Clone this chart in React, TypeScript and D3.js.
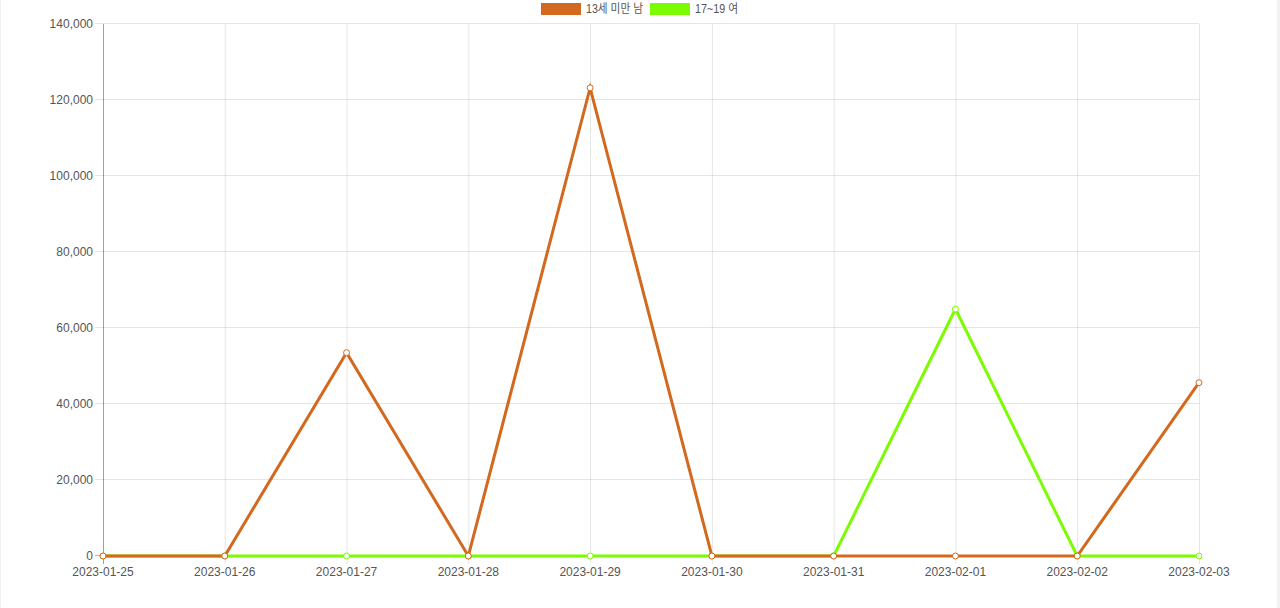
import React from "react";
import * as d3 from "d3";

const dates = ["2023-01-25","2023-01-26","2023-01-27","2023-01-28","2023-01-29","2023-01-30","2023-01-31","2023-02-01","2023-02-02","2023-02-03"];
const boyUnder13 = [0, 0, 53500, 0, 123200, 0, 0, 0, 0, 45600];
const girl17to19 = [0, 0, 0, 0, 0, 0, 0, 65000, 0, 0];
const yTicks = [0, 20000, 40000, 60000, 80000, 100000, 120000, 140000];
const seriesNames = ["13세 미만 남", "17~19 여"];
const seriesColors = ["#d2691e", "#7cfc00"];

const W = 1280, H = 608;
const left = 103, right = 1199, top = 24, bottom = 556;

export default function App() {
  const x = d3.scalePoint<string>().domain(dates).range([left, right]);
  const y = d3.scaleLinear().domain([0, 140000]).range([bottom, top]);
  const line = d3.line<number>().x((_, i) => x(dates[i])!).y(d => y(d));
  const fmt = d3.format(",");
  const font = "'Liberation Sans', Arial, Helvetica, 'Noto Sans CJK KR', sans-serif";
  const series = [
    { name: seriesNames[0], data: boyUnder13, color: seriesColors[0] },
    { name: seriesNames[1], data: girl17to19, color: seriesColors[1] },
  ];
  const drawOrder = [series[1], series[0]];
  const legendItems = [
    { x: 541, s: series[0], len: 57 },
    { x: 650, s: series[1], len: 43 },
  ];
  return (
    <svg width={W} height={H} style={{ position: "absolute", left: 0, top: 0, background: "#fff" }} fontFamily={font}>
      <rect x={0} y={0} width={1} height={H} fill="#f0f0f0" />
      <rect x={1277} y={0} width={3} height={H} fill="#f2f2f2" />
      {yTicks.map(t => (
        <g key={"y" + t}>
          <line x1={left - 8} x2={right} y1={y(t) - 0.5} y2={y(t) - 0.5} stroke="rgba(0,0,0,0.1)" />
          <text x={left - 10} y={y(t)} dy="0.35em" textAnchor="end" fontSize={12} fill="#555">{fmt(t)}</text>
        </g>
      ))}
      {dates.map(d => (
        <g key={d}>
          <line x1={x(d)! + 0.5} x2={x(d)! + 0.5} y1={top} y2={bottom + 8} stroke="rgba(0,0,0,0.1)" />
          <text x={x(d)!} y={bottom + 20} textAnchor="middle" fontSize={12} fill="#555">{d}</text>
        </g>
      ))}
      <line x1={left + 0.5} x2={left + 0.5} y1={top} y2={bottom + 8} stroke="rgba(0,0,0,0.3)" />
      <line x1={left - 8} x2={right} y1={bottom - 0.5} y2={bottom - 0.5} stroke="rgba(0,0,0,0.2)" />
      {drawOrder.map(s => (
        <g key={s.name}>
          <path d={line(s.data)!} fill="none" stroke={s.color} strokeWidth={3} strokeLinejoin="miter" />
          {s.data.map((v, i) => (
            <circle key={i} cx={x(dates[i])!} cy={y(v)} r={3} fill="#fff" stroke={s.color} strokeWidth={1} />
          ))}
        </g>
      ))}
      {legendItems.map(l => (
        <g key={l.s.name}>
          <rect x={l.x} y={3} width={40} height={12} fill={l.s.color} />
          <text x={l.x + 45} y={9} dy="0.35em" fontSize={12} fill="#555" textLength={l.len} lengthAdjust="spacingAndGlyphs">{l.s.name}</text>
        </g>
      ))}
    </svg>
  );
}
